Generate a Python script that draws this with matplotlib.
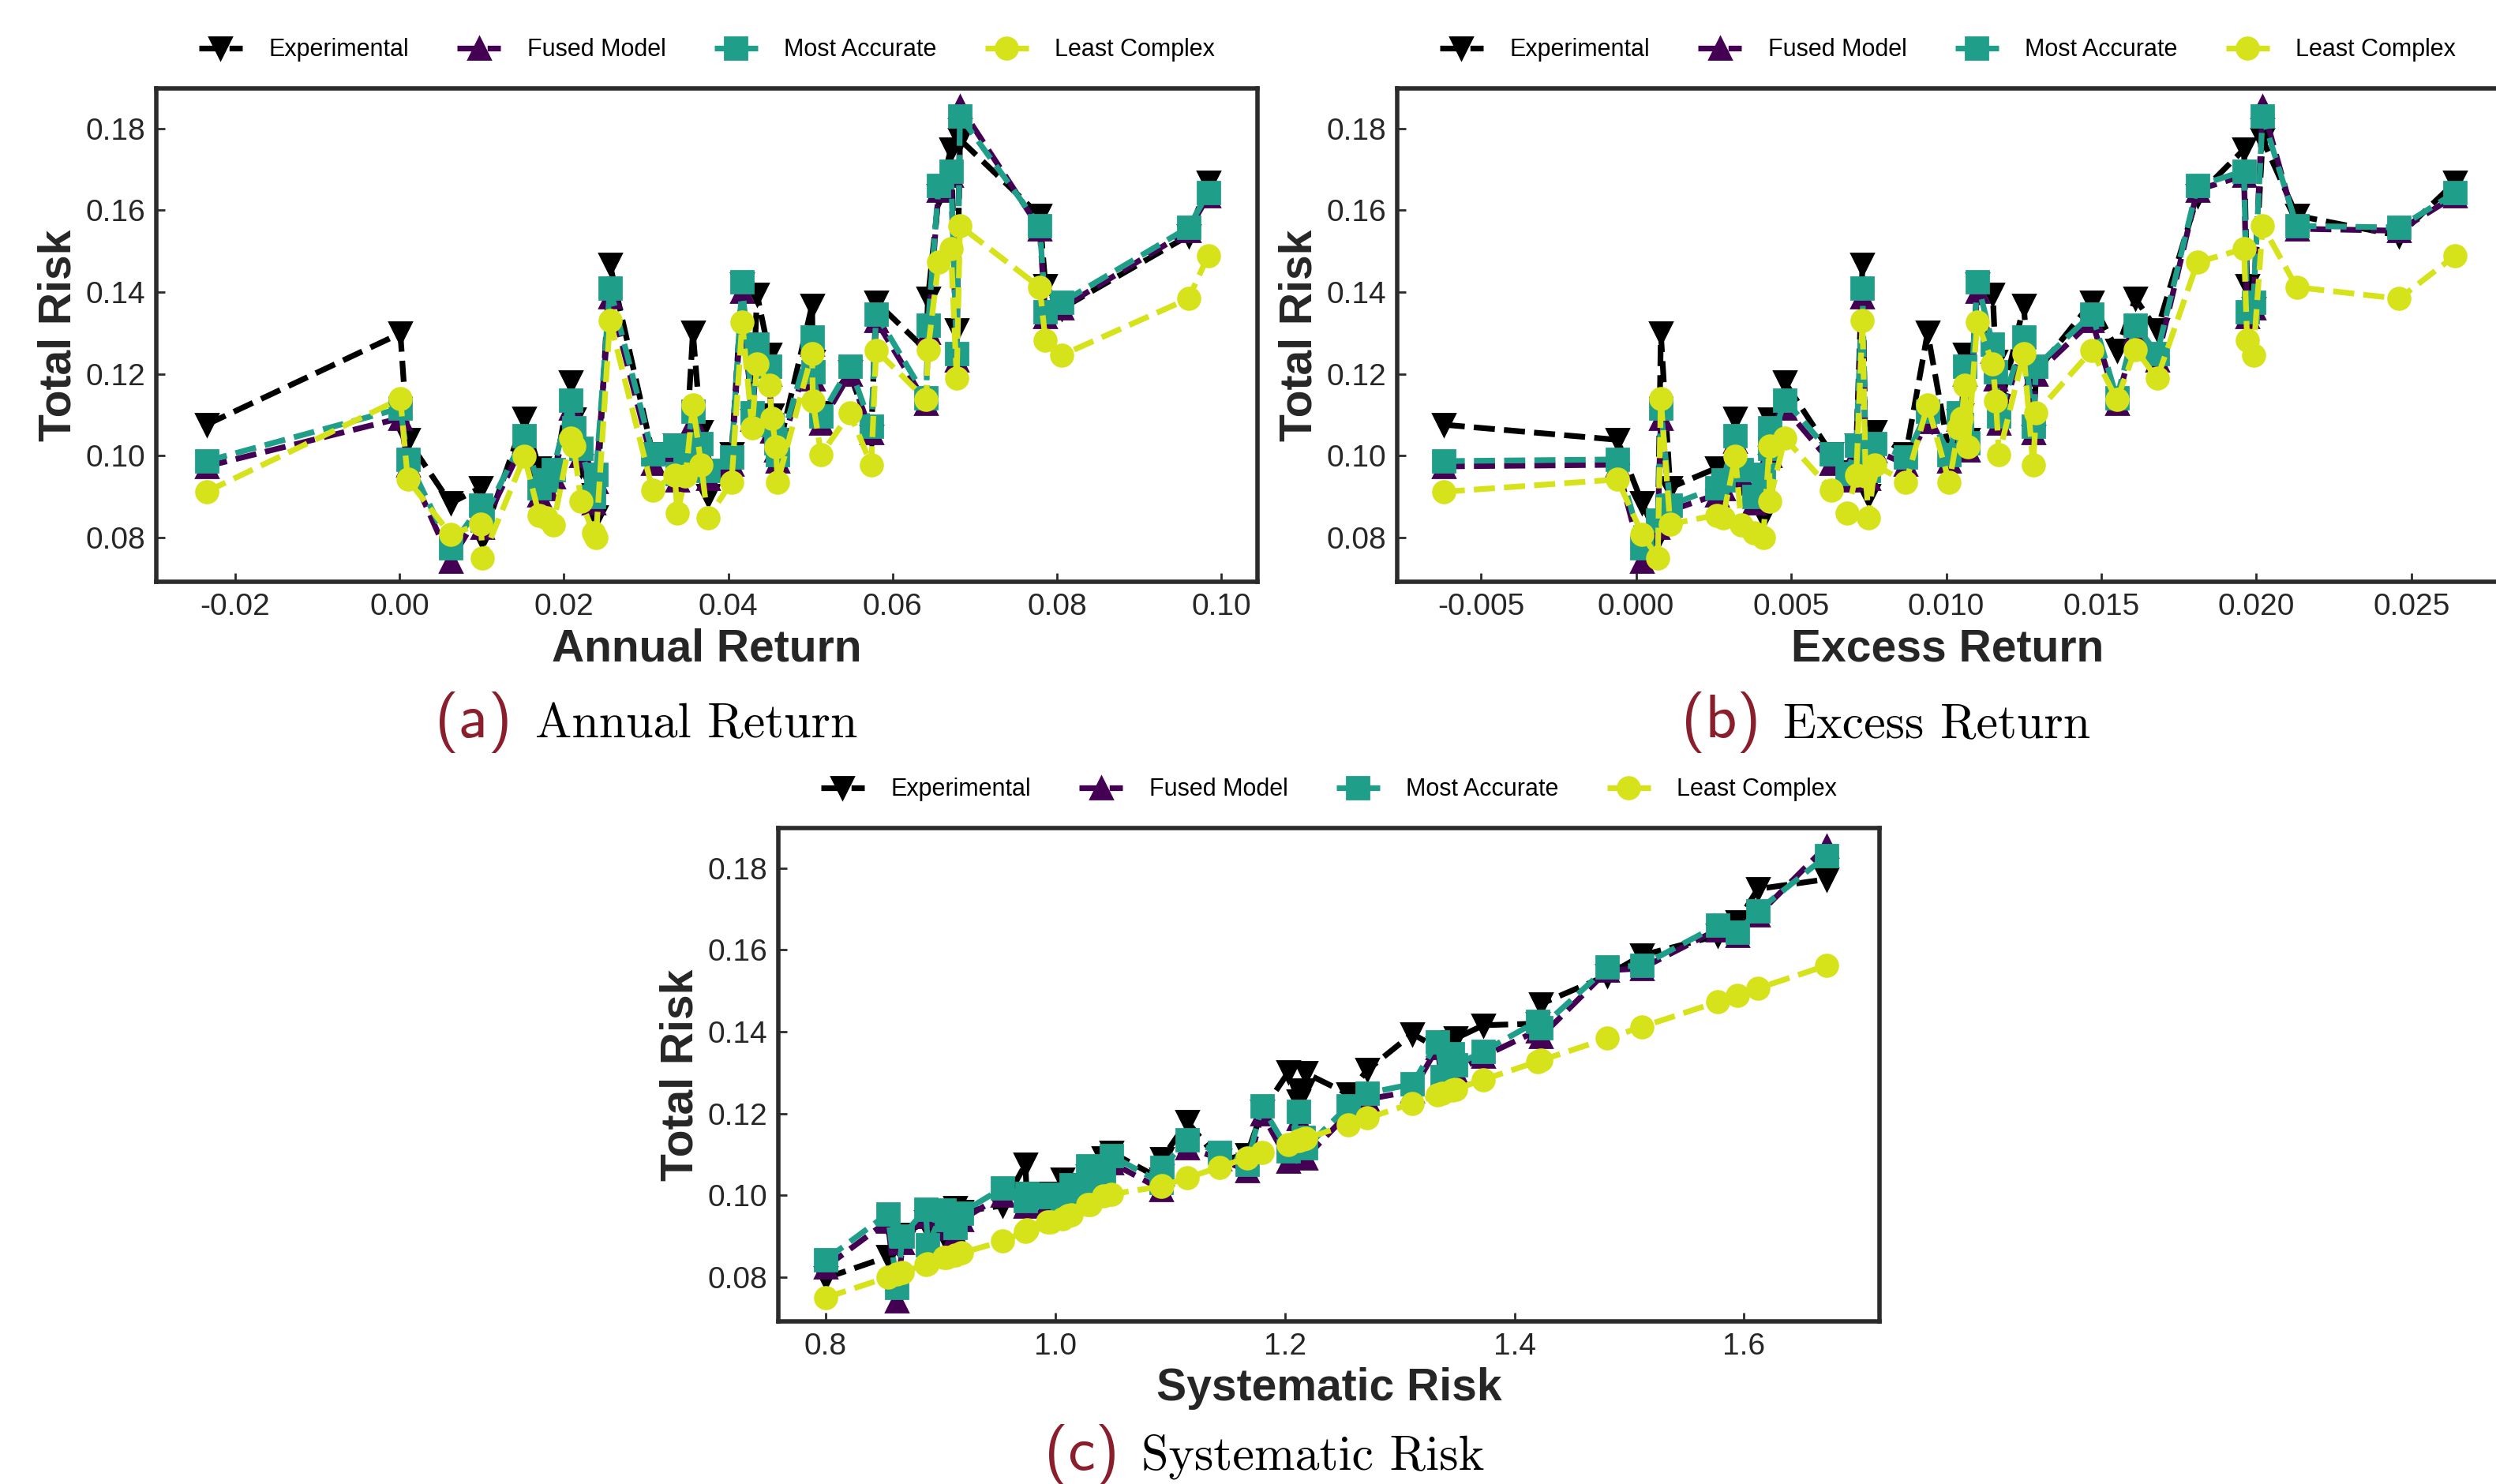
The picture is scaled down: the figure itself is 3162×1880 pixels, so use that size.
import matplotlib
matplotlib.use('Agg')
import matplotlib.pyplot as plt
import numpy as np

# ---- data: one entry per portfolio ----
annual_return = [-0.0235, 0.0001, 0.0010, 0.0062, 0.0099, 0.0101, 0.0152, 0.0170, 0.0179, 0.0187,
                 0.0208, 0.0212, 0.0221, 0.0236, 0.0239, 0.0256, 0.0308, 0.0335, 0.0338, 0.0348,
                 0.0357, 0.0367, 0.0375, 0.0404, 0.0417, 0.0429, 0.0435, 0.0450, 0.0453, 0.0458,
                 0.0460, 0.0502, 0.0503, 0.0513, 0.0548, 0.0574, 0.0580, 0.0641, 0.0643, 0.0656,
                 0.0671, 0.0678, 0.0682, 0.0779, 0.0786, 0.0806, 0.0960, 0.0984]
excess_return = [-0.0062, 0.0008, -0.0006, 0.0002, 0.0011, 0.0007, 0.0032, 0.0026, 0.0028, 0.0034,
                 0.0048, 0.0043, 0.0043, 0.0038, 0.0041, 0.0073, 0.0063, 0.0071, 0.0068, 0.0074,
                 0.0094, 0.0077, 0.0075, 0.0087, 0.0110, 0.0104, 0.0115, 0.0106, 0.0105, 0.0107,
                 0.0101, 0.0125, 0.0116, 0.0117, 0.0129, 0.0128, 0.0147, 0.0155, 0.0161, 0.0181,
                 0.0196, 0.0168, 0.0202, 0.0213, 0.0197, 0.0199, 0.0246, 0.0264]
systematic_risk = [0.974, 1.218, 1.006, 0.862, 0.889, 0.800, 1.042, 0.913, 0.905, 0.887,
                   1.115, 1.093, 0.954, 0.867, 0.854, 1.423, 0.975, 1.014, 0.918, 1.011,
                   1.203, 1.030, 0.903, 0.993, 1.420, 1.143, 1.311, 1.255, 1.167, 1.092,
                   0.996, 1.337, 1.212, 1.049, 1.180, 1.028, 1.346, 1.216, 1.349, 1.577,
                   1.612, 1.272, 1.672, 1.511, 1.373, 1.333, 1.481, 1.594]
risk_experimental = [0.1076, 0.1299, 0.1039, 0.0884, 0.0922, 0.0798, 0.1091, 0.0970, 0.0925, 0.0935,
                     0.1180, 0.1090, 0.0975, 0.0905, 0.0850, 0.1468, 0.1005, 0.1025, 0.0960, 0.0995,
                     0.1301, 0.1058, 0.0902, 0.1005, 0.1420, 0.1085, 0.1395, 0.1248, 0.1100, 0.1040,
                     0.1005, 0.1368, 0.1230, 0.1105, 0.1205, 0.1047, 0.1376, 0.1258, 0.1384, 0.1635,
                     0.1749, 0.1307, 0.1773, 0.1587, 0.1416, 0.1360, 0.1538, 0.1668]
risk_fused = [0.0974, 0.1092, 0.0978, 0.0743, 0.0866, 0.0825, 0.1035, 0.0905, 0.0920, 0.0948,
              0.1117, 0.1052, 0.1000, 0.0885, 0.0937, 0.1388, 0.0982, 0.1008, 0.0940, 0.0985,
              0.1084, 0.1012, 0.0945, 0.0980, 0.1403, 0.1090, 0.1255, 0.1200, 0.1060, 0.1015,
              0.0988, 0.1272, 0.1187, 0.1080, 0.1200, 0.1057, 0.1330, 0.1128, 0.1302, 0.1650,
              0.1685, 0.1235, 0.1854, 0.1555, 0.1340, 0.1362, 0.1550, 0.1635]
risk_most_accurate = [0.0987, 0.1116, 0.0991, 0.0775, 0.0880, 0.0843, 0.1049, 0.0922, 0.0940, 0.0966,
                      0.1136, 0.1068, 0.1018, 0.0901, 0.0955, 0.1410, 0.1005, 0.1026, 0.0957, 0.1000,
                      0.1109, 0.1029, 0.0964, 0.0997, 0.1426, 0.1105, 0.1272, 0.1218, 0.1076, 0.1031,
                      0.1003, 0.1290, 0.1205, 0.1097, 0.1218, 0.1072, 0.1347, 0.1141, 0.1319, 0.1660,
                      0.1696, 0.1250, 0.1830, 0.1562, 0.1352, 0.1375, 0.1558, 0.1643]
risk_least_complex = [0.0912, 0.1139, 0.0942, 0.0808, 0.0833, 0.0750, 0.0998, 0.0855, 0.0848, 0.0831,
                      0.1043, 0.1023, 0.0888, 0.0812, 0.0800, 0.1330, 0.0916, 0.0953, 0.0859, 0.0950,
                      0.1124, 0.0978, 0.0848, 0.0935, 0.1327, 0.1069, 0.1225, 0.1173, 0.1092, 0.1022,
                      0.0935, 0.1250, 0.1133, 0.1003, 0.1104, 0.0978, 0.1258, 0.1137, 0.1260, 0.1473,
                      0.1506, 0.1189, 0.1562, 0.1412, 0.1283, 0.1246, 0.1384, 0.1489]

series_names = ['Experimental', 'Fused Model', 'Most Accurate', 'Least Complex']
series_values = [risk_experimental, risk_fused, risk_most_accurate, risk_least_complex]
series_colors = ['black', '#440154', '#1f9e89', '#d6e21a']
series_markers = ['v', '^', 's', 'o']

ticks_a = [-0.02, 0.00, 0.02, 0.04, 0.06, 0.08, 0.10]
ticks_b = [-0.005, 0.000, 0.005, 0.010, 0.015, 0.020, 0.025]
ticks_c = [0.8, 1.0, 1.2, 1.4, 1.6]
ticks_y = [0.08, 0.10, 0.12, 0.14, 0.16, 0.18]

plt.rcParams['font.family'] = ['Liberation Sans', 'DejaVu Sans']
plt.rcParams['axes.unicode_minus'] = False

W, H = 3162, 1880
fig = plt.figure(figsize=(W / 200, H / 200), dpi=200)
fig.patch.set_facecolor('white')

def make_axes(left_px, top_px, w_px=1395, h_px=625):
    return fig.add_axes([left_px / W, 1 - (top_px + h_px) / H, w_px / W, h_px / H])

def draw(ax, x, xlabel, xlim, xticks, fmt):
    x = np.asarray(x)
    order = np.argsort(x, kind='stable')
    xs = x[order]
    for ys, name, col, mk in zip(series_values, series_names, series_colors, series_markers):
        ax.plot(xs, np.asarray(ys)[order], linestyle='--', marker=mk, color=col,
                lw=2.6, ms=10, label=name)
    ax.set_xlim(*xlim)
    ax.set_ylim(0.0692, 0.1898)
    ax.set_xticks(xticks)
    ax.set_xticklabels([fmt % t for t in xticks])
    ax.set_yticks(ticks_y)
    ax.set_yticklabels(['%.2f' % t for t in ticks_y])
    for sp in ax.spines.values():
        sp.set_color('#2b2b2b')
        sp.set_linewidth(2.0)
    ax.tick_params(direction='in', length=4, width=1, color='#2b2b2b',
                   labelsize=14, labelcolor='#262626', pad=5)
    ax.set_xlabel(xlabel, fontsize=20.5, fontweight='bold', color='#262626', labelpad=3)
    ax.set_ylabel('Total Risk', fontsize=20.5, fontweight='bold', color='#262626', labelpad=2.5)
    ax.legend(loc='center', bbox_to_anchor=(0.5, 1.078), ncol=4, frameon=False,
              fontsize=11, handlelength=1.8, handletextpad=1.1, columnspacing=2.0)

ax_a = make_axes(198, 112)
draw(ax_a, annual_return, 'Annual Return', (-0.0296, 0.1044), ticks_a, '%.2f')
ax_b = make_axes(1770, 112)
draw(ax_b, excess_return, 'Excess Return', (-0.0077, 0.0278), ticks_b, '%.3f')
ax_c = make_axes(986, 1049)
draw(ax_c, systematic_risk, 'Systematic Risk', (0.7587, 1.718), ticks_c, '%.1f')

def caption(letter, text, right_px, left_px, base_px):
    y = 1 - base_px / H
    fig.text(right_px / W, y, letter, ha='right', va='baseline', family='cmss10',
             color='#8b1e2c', fontsize=28)
    fig.text(left_px / W, y, text, ha='left', va='baseline', family='cmr10',
             color='black', fontsize=22.3)

caption('(a)', 'Annual Return', 649, 678, 934)
caption('(b)', 'Excess Return', 2231, 2259, 934)
caption('(c)', 'Systematic Risk', 1418, 1446, 1862)

fig.savefig('out.png', dpi=200, facecolor='white')
